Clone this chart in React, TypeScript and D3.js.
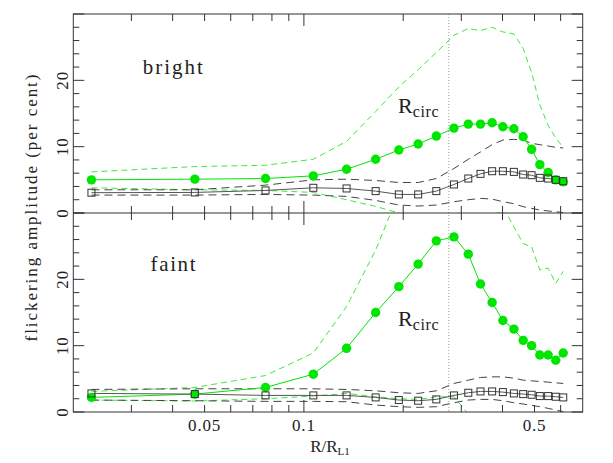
import * as d3 from "d3";

// radial bins (R / R_L1)
const rBins = [0.0227, 0.0467, 0.0765, 0.1068, 0.1347, 0.165, 0.194, 0.222, 0.252, 0.285, 0.315, 0.343, 0.372, 0.401, 0.433, 0.462, 0.49, 0.519, 0.55, 0.58, 0.611];

// bright state
const brightAmp = [5.0, 5.1, 5.2, 5.6, 6.6, 8.1, 9.5, 10.4, 11.6, 12.8, 13.4, 13.4, 13.6, 13.0, 12.7, 11.5, 9.6, 7.3, 6.1, 5.0, 4.7];
const brightAmpHi = [6.2, 7.0, 7.2, 8.1, 10.8, 15.3, 19.0, 21.6, 24.2, 26.8, 27.8, 27.5, 28.0, 27.3, 27.0, 24.8, 21.2, 16.3, 13.2, 11.3, 9.9];
const brightAmpLo = [3.8, 3.5, 3.4, 3.1, 2.0, 1.0, 0.0, -1.5, -2.0, -2.0, -1.5, -0.8, -0.2, 0.2, -1.2, -3, -5, -6, -7, -8, -8];
const brightRef = [3.06, 3.1, 3.4, 3.8, 3.7, 3.3, 2.8, 2.8, 3.3, 4.3, 5.2, 5.9, 6.3, 6.3, 6.2, 5.8, 5.7, 5.3, 5.2, 5.0, 4.8];
const brightRefHi = [3.5, 3.5, 4.2, 5.0, 5.1, 4.9, 4.6, 4.6, 5.2, 6.7, 8.1, 9.2, 10.3, 11.0, 11.1, 11.0, 10.5, 10.3, 10.1, 9.9, 9.8];
const brightRefLo = [2.7, 2.7, 2.8, 2.7, 2.5, 1.9, 1.2, 1.05, 1.2, 1.7, 2.0, 2.2, 2.1, 1.7, 1.4, 0.95, 0.7, 0.45, 0.3, 0.2, 0.05];

// faint state
const faintAmp = [2.2, 2.7, 3.7, 5.7, 9.6, 15.0, 18.9, 22.3, 25.8, 26.4, 23.8, 19.3, 16.5, 13.8, 12.5, 10.8, 10.0, 8.6, 8.6, 7.8, 8.9];
const faintAmpHi = [3.1, 3.7, 5.5, 8.9, 15.9, 24.4, 33, 40, 45, 48, 48, 45, 40, 31, 27.9, 25.4, 24.9, 21.4, 21.7, 19.4, 21.2];
const faintAmpLo = [1.8, 1.65, 2.0, 2.4, 2.8, 2.3, 2.0, 1.9, 2.3, 2.3, -0.3, -2, -3.5, -5, -6, -7, -8, -9, -9, -10, -10];
const faintRef = [2.8, 2.7, 2.5, 2.5, 2.5, 2.2, 1.8, 1.7, 1.9, 2.5, 2.9, 3.1, 3.1, 3.0, 2.8, 2.7, 2.6, 2.4, 2.4, 2.3, 2.2];
const faintRefHi = [3.4, 3.5, 3.5, 3.5, 3.4, 3.2, 2.9, 2.8, 3.2, 4.3, 4.8, 5.2, 5.3, 5.3, 5.1, 4.8, 4.7, 4.6, 4.5, 4.4, 4.3];
const faintRefLo = [1.8, 1.7, 1.6, 1.6, 1.55, 1.05, 0.8, 0.7, 0.8, 1.4, 1.8, 1.9, 1.9, 1.7, 1.4, 1.2, 1.0, 0.8, 0.55, 0.3, 0.05];

// axes
const xMinorTicks = [0.03, 0.04, 0.05, 0.06, 0.07, 0.08, 0.09, 0.2, 0.3, 0.4, 0.5, 0.6];
const xMajorTicks = [0.1];
const xTickLabels = [0.05, 0.1, 0.5];
const yTicks = [0, 2, 4, 6, 8, 10, 12, 14, 16, 18, 20, 22, 24, 26, 28, 30];
const yTickLabels = [0, 10, 20];
const rCirc = 0.275;

const W = 613;
const H = 463;
const left = 73.3;
const right = 582.7;
const topY = 14;
const midY = 213;
const botY = 412;

const FONT = "Liberation Serif";
const AXIS = "#333";
const GREEN = "#00e600";
const GREEN_DASH = "#3ee83e";

const x = d3.scaleLog().domain([0.02, 0.7]).range([left, right]);

type PanelProps = {
  y: d3.ScaleLinear<number, number>;
  amp: number[];
  ampHi: number[];
  ampLo: number[];
  ref: number[];
  refHi: number[];
  refLo: number[];
  label: string;
  labelPos: [number, number];
  labelLen: number;
  circPos: [number, number];
  id: string;
};

function Panel({ y, amp, ampHi, ampLo, ref, refHi, refLo, label, labelPos, labelLen, circPos, id }: PanelProps) {
  const line = d3
    .line<number>()
    .x((_, i) => x(rBins[i]))
    .y((d) => y(d));
  const [y0, y1] = y.range();
  return (
    <g>
      <defs>
        <clipPath id={id}>
          <rect x={left} y={y1} width={right - left} height={y0 - y1} />
        </clipPath>
      </defs>
      <g clipPath={`url(#${id})`} fill="none">
        <path d={line(ampHi) || ""} stroke={GREEN_DASH} strokeWidth={1} strokeDasharray="6,4" />
        <path d={line(ampLo) || ""} stroke={GREEN_DASH} strokeWidth={1} strokeDasharray="6,4" />
        <path d={line(refHi) || ""} stroke="#444" strokeWidth={1} strokeDasharray="8,5" />
        <path d={line(refLo) || ""} stroke="#444" strokeWidth={1} strokeDasharray="8,5" />
        <path d={line(amp) || ""} stroke={GREEN} strokeWidth={1} />
        <path d={line(ref) || ""} stroke="#555" strokeWidth={1} />
      </g>
      {amp.map((v, i) => (
        <circle key={"c" + i} cx={x(rBins[i])} cy={y(v)} r={4.7} fill={GREEN} />
      ))}
      {ref.map((v, i) => (
        <rect key={"s" + i} x={x(rBins[i]) - 3.5} y={y(v) - 3.5} width={7} height={7} fill="none" stroke="#333" strokeWidth={1} />
      ))}
      {/* y ticks, both sides */}
      {yTicks.map((t) => {
        const len = t % 10 === 0 ? 11 : 6;
        return (
          <g key={"yt" + t} stroke={AXIS} strokeWidth={1}>
            <line x1={left} x2={left + len} y1={y(t)} y2={y(t)} />
            <line x1={right} x2={right - len} y1={y(t)} y2={y(t)} />
          </g>
        );
      })}
      {/* x ticks, top and bottom of the panel */}
      {[...xMinorTicks, ...xMajorTicks].map((t) => {
        const len = xMajorTicks.includes(t) ? 12 : 7;
        return (
          <g key={"xt" + t} stroke={AXIS} strokeWidth={1}>
            <line x1={x(t)} x2={x(t)} y1={y0} y2={y0 - len} />
            <line x1={x(t)} x2={x(t)} y1={y1} y2={y1 + len} />
          </g>
        );
      })}
      {yTickLabels.map((t) => (
        <text
          key={"yl" + t}
          transform={`translate(68,${y(t)}) rotate(-90)`}
          textAnchor="middle"
          fontFamily={FONT}
          fontSize={17}
          letterSpacing={0.8}
          fill="#222"
        >
          {t}
        </text>
      ))}
      <text
        x={x(labelPos[0])}
        y={y(labelPos[1])}
        fontFamily={FONT}
        fontSize={21}
        fill="#222"
        textLength={labelLen}
        lengthAdjust="spacing"
      >
        {label}
      </text>
      <text x={x(circPos[0])} y={y(circPos[1])} fontFamily={FONT} fill="#222">
        <tspan fontSize={22}>R</tspan>
        <tspan fontSize={16} dy={4} letterSpacing={0.6}>circ</tspan>
      </text>
    </g>
  );
}

export default function App() {
  const yTop = d3.scaleLinear().domain([0, 30]).range([midY, topY]);
  const yBot = d3.scaleLinear().domain([0, 30]).range([botY, midY]);
  return (
    <svg width={W} height={H} style={{ position: "absolute", left: 0, top: 0, background: "#fff" }}>
      <rect width={W} height={H} fill="#fff" />
      <Panel
        y={yTop}
        amp={brightAmp}
        ampHi={brightAmpHi}
        ampLo={brightAmpLo}
        ref={brightRef}
        refHi={brightRefHi}
        refLo={brightRefLo}
        label="bright"
        labelPos={[0.0325, 21]}
        labelLen={60}
        circPos={[0.193, 15.1]}
        id="clipTop"
      />
      <Panel
        y={yBot}
        amp={faintAmp}
        ampHi={faintAmpHi}
        ampLo={faintAmpLo}
        ref={faintRef}
        refHi={faintRefHi}
        refLo={faintRefLo}
        label="faint"
        labelPos={[0.0343, 21.3]}
        labelLen={45}
        circPos={[0.193, 13.0]}
        id="clipBot"
      />
      <line x1={x(rCirc)} x2={x(rCirc)} y1={topY} y2={botY} stroke="#999" strokeWidth={1} strokeDasharray="1,2" />
      <rect x={left} y={topY} width={right - left} height={botY - topY} fill="none" stroke={AXIS} strokeWidth={1} />
      <line x1={left} x2={right} y1={midY} y2={midY} stroke={AXIS} strokeWidth={1} />
      {xTickLabels.map((t) => (
        <text key={"xl" + t} x={x(t)} y={431} textAnchor="middle" fontFamily={FONT} fontSize={17} letterSpacing={0.8} fill="#222">
          {t}
        </text>
      ))}
      <text x={(left + right) / 2 + 2} y={452} textAnchor="middle" fontFamily={FONT} fill="#222">
        <tspan fontSize={17}>R/R</tspan>
        <tspan fontSize={11} dy={3}>L1</tspan>
      </text>
      <text
        transform={`translate(37,${(topY + botY) / 2 - 5}) rotate(-90)`}
        textAnchor="middle"
        fontFamily={FONT}
        fontSize={17}
        fill="#222"
        textLength={267}
        lengthAdjust="spacing"
      >
        flickering amplitude (per cent)
      </text>
    </svg>
  );
}
